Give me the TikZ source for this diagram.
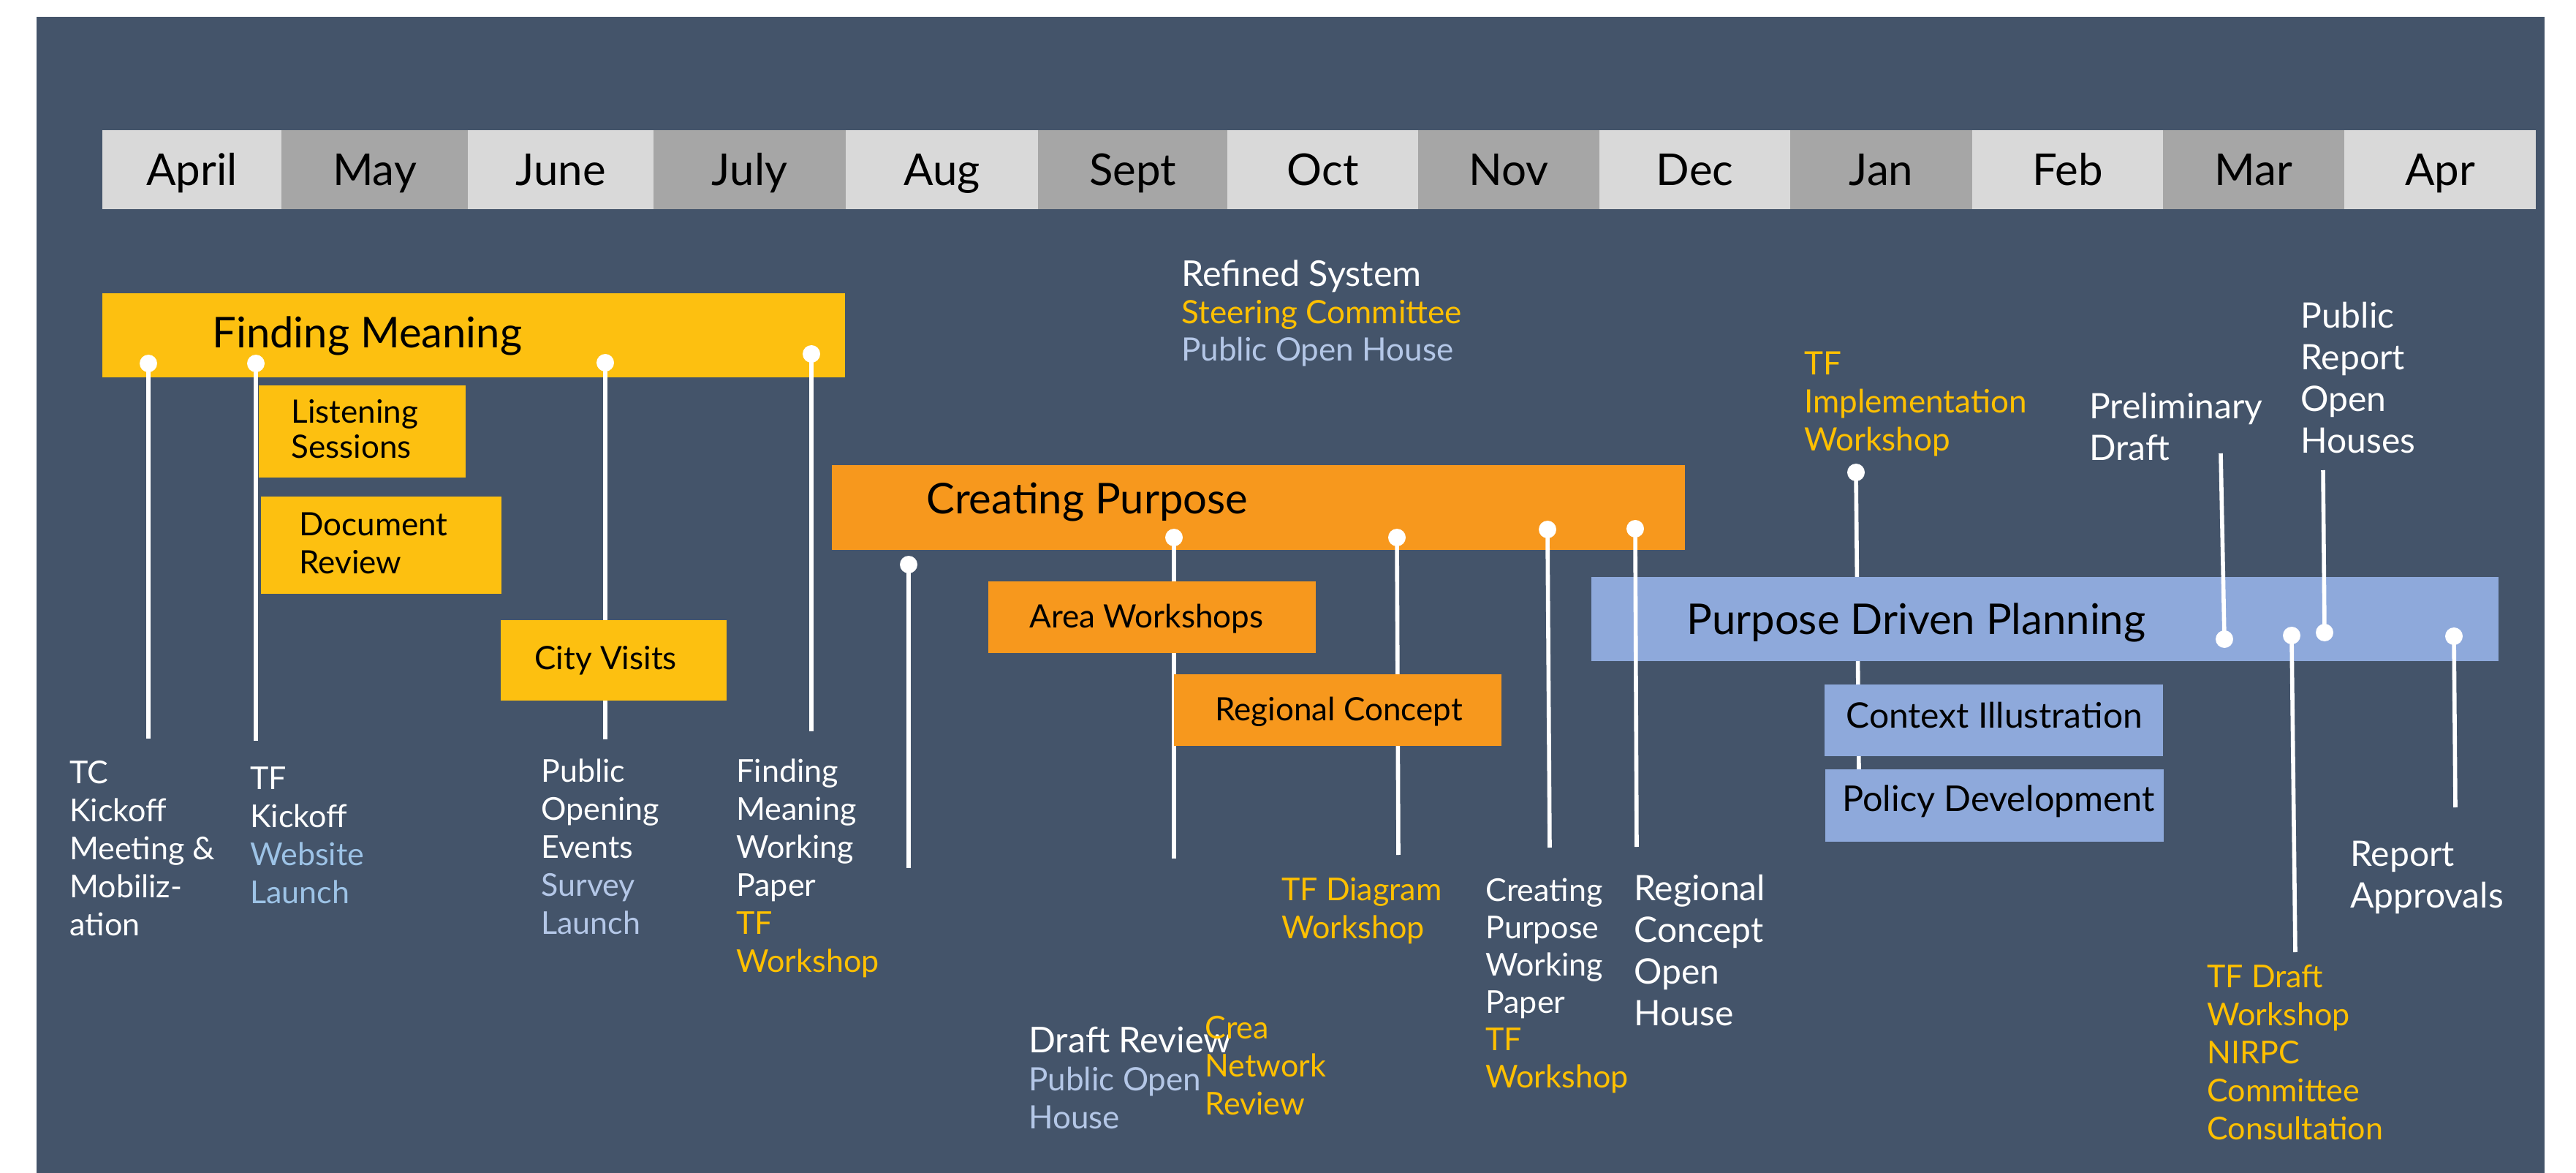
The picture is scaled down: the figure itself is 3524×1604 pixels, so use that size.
\documentclass[tikz,border=0pt]{standalone}
\usepackage{fontspec}
\setmainfont{Lato}
\usetikzlibrary{fit}
\definecolor{bgslate}{HTML}{44546A}
\definecolor{mlight}{HTML}{D9D9D9}
\definecolor{mdark}{HTML}{A6A6A6}
\definecolor{fmyel}{HTML}{FDC010}
\definecolor{cporg}{HTML}{F7981D}
\definecolor{pdpblue}{HTML}{8EA9DB}
\definecolor{txtyel}{HTML}{FFC000}
\definecolor{txtlav}{HTML}{B4C7E7}
\definecolor{txtblue}{HTML}{9DC3E6}
\pgfdeclarelayer{bglayer}
\pgfdeclarelayer{under}
\pgfdeclarelayer{over}
\pgfsetlayers{bglayer,under,main,over}
\tikzset{
  monthbox/.style={fill=#1, inner sep=0pt, minimum height=54pt, text=black,
    font=\fontsize{30}{34}\selectfont, text height=21.6pt, text depth=0pt},
  barbox/.style={fill=#1, inner sep=0pt, draw=none},
  dot/.style={circle, fill=white, inner sep=0pt, minimum size=12pt},
  conn/.style={draw=white, line width=2.8pt},
  title/.style={anchor=base west, inner sep=0pt, text=black, font=\fontsize{29}{34}\selectfont},
  boxtxt/.style={anchor=base west, inner sep=0pt, align=left, text=black, font=\fontsize{22}{25}\selectfont},
  evt/.style={anchor=base west, inner sep=0pt, align=left, text=white, font=\fontsize{21.5}{26}\selectfont},
  bigevt/.style={evt, font=\fontsize{24}{28.5}\selectfont},
}
\newcommand{\headline}[1]{{\fontsize{24.3}{26}\selectfont #1}}
\begin{document}
\begin{tikzpicture}[x=0.5pt,y=-0.5pt]
\useasboundingbox (0,0) rectangle (3524,1604);
\begin{pgfonlayer}{bglayer}
  \fill[white] (0,0) rectangle (3524,1604);
  \fill[bgslate] (50,23) rectangle (3481,1604);
  \foreach \a/\b/\t/\c [count=\i] in {140/385/April/mlight, 385/640/May/mdark, 640/894/June/mlight, 894/1157/July/mdark, 1157/1420/Aug/mlight, 1420/1679/Sept/mdark, 1679/1940/Oct/mlight, 1940/2188/Nov/mdark, 2188/2449/Dec/mlight, 2449/2698/Jan/mdark, 2698/2959/Feb/mlight, 2959/3207/Mar/mdark, 3207/3469/Apr/mlight}{
    \node[monthbox=\c, minimum width={(\b-\a)*0.5pt}] (m\i) at ({(\a+\b)/2},232) {\t};
  }
\end{pgfonlayer}

% dots (on top)
\begin{pgfonlayer}{over}
  \node[dot] (fd1) at (203,497) {};
  \node[dot] (fd2) at (350,497) {};
  \node[dot] (fd3) at (828,496) {};
  \node[dot] (fd4) at (1110,484) {};
  \node[dot] (cd1) at (1243,772) {};
  \node[dot] (cd2) at (1606,735) {};
  \node[dot] (cd3) at (1911,735) {};
  \node[dot] (cd4) at (2117,724) {};
  \node[dot] (cd5) at (2237,723) {};
  \node[dot] (pd0) at (2539,646) {};
  \node[dot] (pd1) at (3043,874) {};
  \node[dot] (pd2) at (3135,869) {};
  \node[dot] (pd3) at (3180,865) {};
  \node[dot] (pd4) at (3357,870) {};
\end{pgfonlayer}

% free ends of connectors
\coordinate (fe1) at (203,1010);
\coordinate (fe2) at (350,1013);
\coordinate (fe3) at (828,1011);
\coordinate (fe4) at (1110,1000);
\coordinate (ce1) at (1243,1187);
\coordinate (ce2) at (1606,1174);
\coordinate (ce3) at (1913,1169);
\coordinate (ce4) at (2120,1159);
\coordinate (ce5) at (2239,1158);
\coordinate (pe0) at (2543,1052);
\coordinate (pe1) at (3038,620);
\coordinate (pe2) at (3140,1302);
\coordinate (pe3) at (3178,643);
\coordinate (pe4) at (3359,1104);

% phase bars
\node[barbox=fmyel, fit={(140,401) (1156,516)}] (fm) {};
\node[barbox=cporg, fit={(1138,636) (2305,752)}] (cp) {};
\node[barbox=pdpblue, fit={(2177,789) (3418,904)}] (pdp) {};

\begin{pgfonlayer}{under}
  \draw[conn] (pd0.center) -- (pe0);
\end{pgfonlayer}

% connectors
\draw[conn] (fd1.center) -- (fe1);
\draw[conn] (fd2.center) -- (fe2);
\draw[conn] (fd3.center) -- (fe3);
\draw[conn] (fd4.center) -- (fe4);
\draw[conn] (cd1.center) -- (ce1);
\draw[conn] (cd2.center) -- (ce2);
\draw[conn] (cd3.center) -- (ce3);
\draw[conn] (cd4.center) -- (ce4);
\draw[conn] (cd5.center) -- (ce5);
\draw[conn] (pe1) -- (pd1.center);
\draw[conn] (pd2.center) -- (pe2);
\draw[conn] (pe3) -- (pd3.center);
\draw[conn] (pd4.center) -- (pe4);

% sub boxes
\node[barbox=fmyel, fit={(354,527) (637,653)}] (ls) {};
\node[barbox=fmyel, fit={(357,679) (686,812)}] (dr) {};
\node[barbox=fmyel, fit={(685,848) (994,958)}] (cv) {};
\node[barbox=cporg, fit={(1352,795) (1800,893)}] (aw) {};
\node[barbox=cporg, fit={(1606,922) (2054,1020)}] (rc) {};
\node[barbox=pdpblue, fit={(2496,936) (2959,1034)}] (ci) {};
\node[barbox=pdpblue, fit={(2497,1052) (2960,1151)}] (pdv) {};

% titles
\node[title] (tfm) at (290,476) {Finding Meaning};
\node[title] (tcp) at (1267,703) {Creating Purpose};
\node[title] (tpdp) at (2307,867) {Purpose Driven Planning};

% box texts (anchored at the baseline of the last line)
\node[boxtxt, font=\fontsize{22}{24.5}\selectfont] (tls) at (398,627) {Listening\\Sessions};
\node[boxtxt, font=\fontsize{22}{26}\selectfont] (tdr) at (409,784) {Document\\Review};
\node[boxtxt] (tcv) at (731,915) {City Visits};
\node[boxtxt] (taw) at (1408,858) {Area Workshops};
\node[boxtxt] (trc) at (1662,985) {Regional Concept};
\node[boxtxt, font=\fontsize{24}{26}\selectfont] (tci) at (2525,995) {Context Illustration};
\node[boxtxt, font=\fontsize{24.3}{26}\selectfont] (tpd) at (2520,1109) {Policy Development};

% event labels (anchored at the baseline of the last line)
\node[evt] (l1) at (95,1279) {TC\\Kickoff\\Meeting \&\\Mobiliz-\\ation};
\node[evt] (l2) at (342,1235) {TF\\Kickoff\\\textcolor{txtblue}{Website}\\\textcolor{txtblue}{Launch}};
\node[evt] (l3) at (740,1277) {Public\\Opening\\Events\\\textcolor{txtlav}{Survey}\\\textcolor{txtlav}{Launch}};
\node[evt] (l4) at (1007,1329) {Finding\\Meaning\\Working\\Paper\\\textcolor{txtyel}{TF}\\\textcolor{txtyel}{Workshop}};
\node[evt, font=\fontsize{22}{25.5}\selectfont] (l5) at (1616,494) {\headline{Refined System}\\\textcolor{txtyel}{Steering Committee}\\\textcolor{txtlav}{Public Open House}};
\node[evt, font=\fontsize{22}{26}\selectfont] (l6) at (1407,1543) {\headline{Draft Review}\\\textcolor{txtlav}{Public Open}\\\textcolor{txtlav}{House}};
\node[evt, text=txtyel] (l7) at (1648,1524) {Crea\\Network\\Review};
\node[evt, text=txtyel] (l8) at (1753,1283) {TF Diagram\\Workshop};
\node[evt, font=\fontsize{21.5}{25.5}\selectfont] (l9) at (2032,1487) {Creating\\Purpose\\Working\\Paper\\\textcolor{txtyel}{TF}\\\textcolor{txtyel}{Workshop}};
\node[bigevt] (l10) at (2235,1402) {Regional\\Concept\\Open\\House};
\node[evt, text=txtyel, font=\fontsize{22}{26}\selectfont] (l11) at (2468,617) {TF\\Implementation\\Workshop};
\node[bigevt] (l12) at (2858,630) {Preliminary\\Draft};
\node[bigevt] (l13) at (3147,620) {Public\\Report\\Open\\Houses};
\node[bigevt] (l14) at (3215,1241) {Report\\Approvals};
\node[evt, text=txtyel] (l15) at (3019,1558) {TF Draft\\Workshop\\NIRPC\\Committee\\Consultation};
\end{tikzpicture}
\end{document}
